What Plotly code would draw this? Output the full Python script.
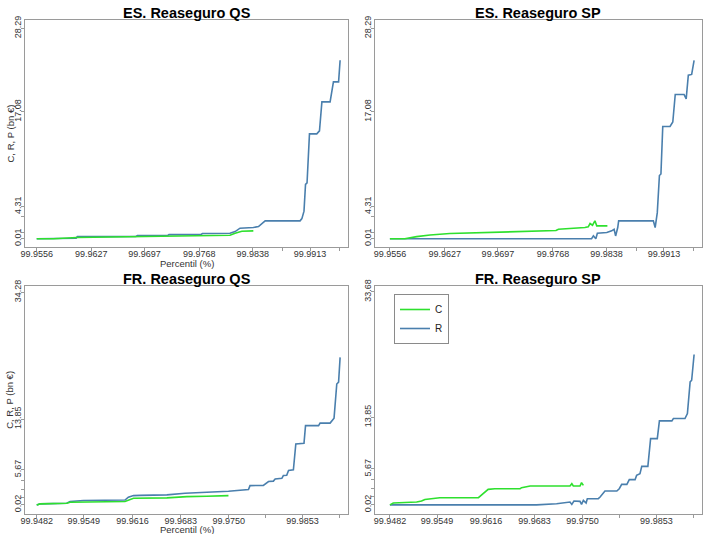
import plotly.graph_objects as go

# ---------------- data (x = sample rank index 0..1000 within the tail) ----------------
ES_XTICK_POS = [0, 180, 355, 536, 712, 810, 901, 999]
ES_XTICK_TEXT = ["99.9556", "99.9627", "99.9697", "99.9768", "99.9838", "", "99.9913", ""]
FR_XTICK_POS = [0, 155, 316, 475, 633, 755, 876, 999]
FR_XTICK_TEXT = ["99.9482", "99.9549", "99.9616", "99.9683", "99.9750", "", "99.9853", ""]

ES_YTICK_VALS = [0.01, 0.78, 2.94, 4.31, 17.08, 28.29]
ES_YTICK_TEXT = ["0.01", "", "", "4.31", "17.08", "28.29"]
FRQS_YTICK_VALS = [0.02, 1.26, 2.55, 4.0, 5.67, 13.85, 34.28]
FRQS_YTICK_TEXT = ["0.02", "", "", "", "5.67", "13.85", "34.28"]
FRSP_YTICK_VALS = [0.02, 1.26, 2.55, 4.0, 5.67, 13.85, 33.68]
FRSP_YTICK_TEXT = ["0.02", "", "", "", "5.67", "13.85", "33.68"]

# ES. Reaseguro QS
ESQS_R_X = [0, 55, 130, 134, 327, 332, 432, 436, 542, 546, 637, 654, 670, 714, 731, 753, 868,
            874, 881, 886, 891, 899, 923, 932, 940, 967, 978, 995, 1000]
ESQS_R_Y = [0.0, 0.02, 0.05, 0.28, 0.30, 0.42, 0.44, 0.55, 0.57, 0.69, 0.73, 0.96, 1.41, 1.5,
            1.63, 2.4, 2.4, 2.7, 3.7, 7.3, 7.5, 14.1, 14.1, 14.5, 18.4, 18.4, 21.1, 21.1, 24.0]
ESQS_C_X = [0, 55, 132, 330, 429, 538, 637, 654, 676, 714]
ESQS_C_Y = [0.0, 0.0, 0.15, 0.24, 0.28, 0.37, 0.46, 0.73, 1.0, 1.05]

# ES. Reaseguro SP
ESSP_R_X = [0, 663, 669, 677, 682, 713, 729, 737, 742, 749, 752, 866, 872, 879, 886, 891, 897,
            921, 930, 938, 967, 974, 981, 992, 1000]
ESSP_R_Y = [0.0, 0.0, 0.37, 0.0, 0.73, 0.82, 1.05, 1.27, 0.37, 1.5, 2.4, 2.4, 1.5, 3.5, 8.5,
            8.7, 15.1, 15.1, 15.7, 19.4, 19.4, 18.8, 22.0, 22.1, 24.0]
ESSP_C_X = [0, 49, 88, 132, 197, 307, 439, 546, 554, 636, 641, 652, 658, 666, 674, 680, 715]
ESSP_C_Y = [0.0, 0.0, 0.28, 0.5, 0.69, 0.82, 1.0, 1.09, 1.27, 1.41, 1.5, 1.59, 2.04, 1.81,
            2.4, 1.72, 1.72]

# FR. Reaseguro QS
FRQS_R_X = [0, 11, 99, 110, 154, 291, 302, 319, 341, 429, 489, 560, 632, 698, 703, 747, 764,
            780, 786, 808, 813, 824, 830, 846, 854, 881, 886, 929, 934, 967, 980, 989, 995, 1000]
FRQS_R_Y = [0.0, 0.18, 0.29, 0.56, 0.72, 0.8, 1.26, 1.52, 1.55, 1.63, 1.9, 2.0, 2.22, 2.49,
            3.13, 3.15, 3.78, 3.85, 4.2, 4.3, 4.75, 4.8, 5.55, 5.66, 9.85, 9.96, 12.8, 12.8,
            13.2, 13.2, 14.0, 19.5, 19.8, 23.8]
FRQS_C_X = [0, 11, 99, 110, 291, 319, 429, 495, 560, 632]
FRQS_C_Y = [0.0, 0.18, 0.29, 0.45, 0.56, 1.09, 1.15, 1.36, 1.42, 1.52]

# FR. Reaseguro SP
FRSP_R_X = [0, 482, 548, 592, 598, 605, 625, 630, 636, 645, 649, 685, 691, 707, 746, 754, 762,
            779, 787, 806, 811, 822, 828, 848, 857, 879, 886, 927, 932, 970, 978, 987, 992, 1000]
FRSP_R_Y = [0.0, 0.0, 0.18, 0.44, 0.07, 0.6, 0.55, 0.07, 0.71, 0.28, 0.97, 0.97, 1.23, 2.18,
            2.18, 2.55, 3.24, 3.24, 3.98, 3.98, 4.66, 4.93, 6.09, 6.09, 10.47, 10.47, 13.27,
            13.27, 13.64, 13.64, 14.43, 19.44, 19.7, 23.77]
FRSP_C_X = [0, 11, 88, 104, 115, 148, 164, 291, 323, 345, 428, 433, 461, 592, 598, 603, 625,
            630, 636]
FRSP_C_Y = [0.0, 0.28, 0.44, 0.6, 0.86, 0.97, 1.13, 1.13, 2.45, 2.55, 2.55, 2.71, 2.98, 2.98,
            3.34, 2.98, 2.98, 3.5, 3.08]

TITLES = ["ES. Reaseguro QS", "ES. Reaseguro SP", "FR. Reaseguro QS", "FR. Reaseguro SP"]
SERIES_NAMES = ["C", "R"]

# ---------------- styling / layout ----------------
W, H = 703, 534
GREEN = "#2ee02e"
BLUE = "#4a7fad"
FONT = "Liberation Sans, Arial, sans-serif"
AXC = "#9a9a9a"


def px_x(p):
    return p / W


def px_y(p):
    return 1 - p / H


panels = [
    dict(r=(ESQS_R_X, ESQS_R_Y), c=(ESQS_C_X, ESQS_C_Y), xt=(ES_XTICK_POS, ES_XTICK_TEXT),
         yt=(ES_YTICK_VALS, ES_YTICK_TEXT), xr=[-38.6, 1027], yr=[-1.12, 29.42],
         xd=[px_x(25), px_x(348.3)], yd=[px_y(247), px_y(20)]),
    dict(r=(ESSP_R_X, ESSP_R_Y), c=(ESSP_C_X, ESSP_C_Y), xt=(ES_XTICK_POS, ES_XTICK_TEXT),
         yt=(ES_YTICK_VALS, ES_YTICK_TEXT), xr=[-49, 1025], yr=[-1.12, 29.42],
         xd=[px_x(375), px_x(701.7)], yd=[px_y(247), px_y(20)]),
    dict(r=(FRQS_R_X, FRQS_R_Y), c=(FRQS_C_X, FRQS_C_Y), xt=(FR_XTICK_POS, FR_XTICK_TEXT),
         yt=(FRQS_YTICK_VALS, FRQS_YTICK_TEXT), xr=[-38.6, 1027], yr=[-1.4, 35.3],
         xd=[px_x(25), px_x(348.3)], yd=[px_y(513.7), px_y(286)]),
    dict(r=(FRSP_R_X, FRSP_R_Y), c=(FRSP_C_X, FRSP_C_Y), xt=(FR_XTICK_POS, FR_XTICK_TEXT),
         yt=(FRSP_YTICK_VALS, FRSP_YTICK_TEXT), xr=[-49, 1025], yr=[-1.4, 34.6],
         xd=[px_x(375), px_x(701.7)], yd=[px_y(513.7), px_y(286)]),
]

fig = go.Figure()
layout = dict(
    width=W, height=H, margin=dict(l=0, r=0, t=0, b=0, autoexpand=False),
    paper_bgcolor="white", plot_bgcolor="white",
    font=dict(family=FONT, color="#333333"),
    showlegend=True,
    legend=dict(x=px_x(394), y=px_y(294), xanchor="left", yanchor="top",
                bordercolor="#8a8a8a", borderwidth=1, bgcolor="white",
                font=dict(size=10, color="#222"), itemwidth=30, tracegroupgap=0),
)
annotations = []

for i, p in enumerate(panels):
    n = "" if i == 0 else str(i + 1)
    xa, ya = "x" + n, "y" + n
    # R first, then C drawn on top
    fig.add_trace(go.Scatter(x=p["r"][0], y=p["r"][1], mode="lines", name=SERIES_NAMES[1],
                             line=dict(color=BLUE, width=1.6), xaxis=xa, yaxis=ya,
                             showlegend=(i == 0), legendrank=2))
    fig.add_trace(go.Scatter(x=p["c"][0], y=p["c"][1], mode="lines", name=SERIES_NAMES[0],
                             line=dict(color=GREEN, width=1.6), xaxis=xa, yaxis=ya,
                             showlegend=(i == 0), legendrank=1))
    common = dict(showline=True, mirror=True, linecolor=AXC, linewidth=1, ticks="outside",
                  ticklen=3, tickcolor=AXC, showgrid=False, zeroline=False, automargin=False,
                  tickfont=dict(size=9, family=FONT, color="#333333"), tickmode="array")
    layout["xaxis" + n] = dict(common, domain=p["xd"], range=p["xr"], tickvals=p["xt"][0],
                               ticktext=p["xt"][1], anchor=ya, tickangle=0,
                               ticklabelstandoff=-5)
    layout["yaxis" + n] = dict(common, domain=p["yd"], range=p["yr"], tickvals=p["yt"][0],
                               ticktext=p["yt"][1], anchor=xa, tickangle=-90,
                               ticklabelstandoff=-4)
    cx = (p["xd"][0] + p["xd"][1]) / 2
    annotations.append(dict(text="<b>" + TITLES[i] + "</b>", x=cx, y=p["yd"][1] + 7 / H,
                            xref="paper", yref="paper", showarrow=False, xanchor="center",
                            yanchor="middle", font=dict(size=14.5, family=FONT, color="black")))
    if i % 2 == 0:
        cy = (p["yd"][0] + p["yd"][1]) / 2
        annotations.append(dict(text="C, R, P (bn €)", x=px_x(10), y=cy, xref="paper",
                                yref="paper", showarrow=False, textangle=-90,
                                xanchor="center", yanchor="middle",
                                font=dict(size=9.5, family=FONT, color="#333333")))
        annotations.append(dict(text="Percentil (%)", x=cx, y=p["yd"][0] - 16 / H,
                                xref="paper", yref="paper", showarrow=False,
                                xanchor="center", yanchor="middle",
                                font=dict(size=9.5, family=FONT, color="#333333")))

layout["annotations"] = annotations
fig.update_layout(**layout)
fig.write_html("out.html", config={"displayModeBar": False},
               post_script="document.body.style.margin='0';document.body.style.overflow='hidden';")
